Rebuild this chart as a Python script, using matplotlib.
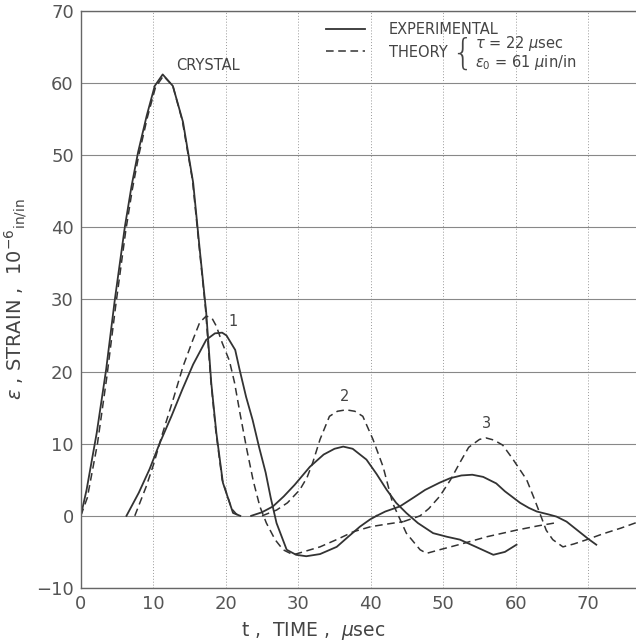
import matplotlib.pyplot as plt
from matplotlib.lines import Line2D

# crystal (experimental / theory)
crystal_t = [0, 0.8, 2.2, 3.5, 4.7, 6.1, 7.0, 7.9, 9.1, 10.2, 11.3, 12.7, 14.1, 15.5, 16.4, 17.3, 18.0, 18.7, 19.6, 21.0, 22.0]
crystal_exp = [0, 3.6, 11.5, 20.3, 30.0, 40.2, 45.7, 50.4, 55.5, 59.6, 61.2, 59.6, 54.6, 46.2, 37.0, 28.2, 18.4, 11.5, 4.6, 0.4, 0]
crystal_th_t = [0, 0.9, 2.3, 3.6, 4.8, 6.2, 7.1, 8.0, 9.2, 10.3, 11.4, 12.7, 14.0, 15.4, 16.3, 17.2, 17.9, 18.6, 19.5, 20.8, 21.5, 22.2]
crystal_th = [0, 2.5, 10.0, 19.3, 29.0, 39.5, 45.2, 50.0, 55.3, 59.4, 61.0, 59.6, 54.8, 46.6, 37.6, 28.8, 19.2, 12.0, 5.0, 1.0, 0.2, 0]

# gauge 1
g1_t = [6.3, 8.0, 9.5, 10.9, 12.5, 14.0, 15.5, 17.3, 18.5, 19.5, 20.1, 21.3, 21.9, 22.8, 23.7, 24.6, 25.5, 26.2, 27.0, 28.4, 29.7, 31.1, 33.0, 35.3, 37.0, 38.5, 39.9, 40.8]
g1_exp = [0, 3.2, 6.5, 10.1, 13.8, 17.5, 21.0, 24.4, 25.3, 25.4, 25.0, 23.0, 20.3, 16.5, 13.3, 9.5, 6.0, 2.5, -1.0, -4.7, -5.4, -5.6, -5.3, -4.3, -2.8, -1.5, -0.5, 0]
g1_th_t = [7.45, 9.0, 10.0, 11.3, 12.7, 14.1, 15.5, 16.4, 17.3, 18.1, 18.7, 19.5, 20.5, 21.2, 22.0, 22.9, 23.8, 24.7, 25.6, 26.8, 27.9, 29.3, 31.0, 33.0, 35.5, 37.6, 40.0, 42.5, 44.5]
g1_th = [0, 4.0, 7.0, 11.5, 16.0, 20.7, 24.5, 26.8, 27.7, 27.4, 26.3, 24.0, 21.5, 18.5, 14.0, 9.2, 4.8, 1.3, -1.0, -3.3, -4.7, -5.4, -4.9, -4.3, -3.2, -2.2, -1.5, -1.1, -0.8]

# gauge 2
g2_t = [23.5, 25.0, 26.5, 28.0, 29.5, 31.6, 33.5, 35.0, 36.2, 37.5, 39.4, 40.8, 42.2, 43.5, 44.9, 46.5, 48.6, 50.5, 52.3, 54.5, 56.9, 58.5, 60.1]
g2_exp = [0, 0.5, 1.3, 2.7, 4.3, 6.8, 8.5, 9.3, 9.6, 9.3, 7.8, 5.8, 3.6, 1.8, 0.4, -1.0, -2.4, -2.9, -3.3, -4.3, -5.4, -5.0, -4.0]
g2_th_t = [25.0, 27.0, 28.5, 30.2, 31.2, 32.0, 33.0, 34.3, 35.4, 36.6, 37.8, 38.9, 40.3, 41.7, 43.0, 44.9, 46.8, 47.7, 49.5, 52.5, 56.0, 60.0, 63.0, 65.3]
g2_th = [0, 0.8, 1.8, 3.6, 5.3, 7.4, 10.6, 13.8, 14.5, 14.7, 14.5, 13.8, 10.6, 6.8, 1.8, -2.4, -4.7, -5.2, -4.7, -3.9, -2.9, -2.0, -1.4, -1.0]

# gauge 3
g3_t = [40.8, 42.0, 44.0, 46.0, 47.5, 49.5, 50.9, 52.5, 54.0, 55.5, 57.3, 58.5, 60.6, 61.8, 62.9, 64.5, 65.6, 67.0, 68.5, 70.0, 71.1]
g3_exp = [0, 0.6, 1.3, 2.6, 3.6, 4.6, 5.2, 5.6, 5.7, 5.4, 4.5, 3.4, 1.8, 1.1, 0.6, 0.2, -0.1, -0.8, -2.0, -3.2, -4.0]
g3_th_t = [44.5, 46.8, 48.0, 49.5, 51.0, 52.3, 53.5, 55.0, 55.9, 57.0, 58.2, 59.5, 60.5, 61.5, 62.5, 63.3, 64.2, 65.1, 66.5, 68.0, 69.8, 72.0, 74.5, 77.0]
g3_th = [-0.8, 0, 1.0, 2.7, 5.0, 7.4, 9.5, 10.6, 10.8, 10.5, 9.8, 8.0, 6.5, 5.0, 2.5, 0.4, -2.0, -3.3, -4.3, -3.9, -3.3, -2.5, -1.7, -0.8]

ink = '#333333'
txt = '#444444'
dash = (0, (5, 3))

fig = plt.figure(figsize=(6.36, 6.44), dpi=100)
ax = fig.add_axes([0.127, 0.087, 0.912, 0.896])

for t, y in [(crystal_t, crystal_exp), (g1_t, g1_exp), (g2_t, g2_exp), (g3_t, g3_exp)]:
    ax.plot(t, y, color=ink, lw=1.3)
for t, y in [(crystal_th_t, crystal_th), (g1_th_t, g1_th), (g2_th_t, g2_th), (g3_th_t, g3_th)]:
    ax.plot(t, y, color=ink, lw=1.1, linestyle=dash)

ax.set_xlim(0, 80)
ax.set_ylim(-10, 70)
ax.set_xticks(range(0, 81, 10))
ax.set_yticks(range(-10, 71, 10))
ax.tick_params(length=0, labelsize=13, labelcolor='#555555', pad=5)
ax.xaxis.grid(True, color='#999999', lw=0.7, linestyle=(0, (1, 2)))
ax.yaxis.grid(True, color='#888888', lw=0.8)
for s in ax.spines.values():
    s.set_color('#666666')
    s.set_linewidth(1.0)

ax.set_xlabel(r't ,  TIME ,  $\mu$sec', fontsize=13.5, color=txt)
ax.xaxis.set_label_coords(0.4, -0.055)
ax.set_ylabel(r'$\epsilon$ , STRAIN ,  10$^{-6}$$_{\mathrm{in/in}}$', fontsize=14, color=txt)
ax.yaxis.set_label_coords(-0.09, 0.5)

ax.text(17.5, 62.5, 'CRYSTAL', fontsize=10.5, color=txt, ha='center', va='center')
ax.text(21.0, 27.0, '1', fontsize=10.5, color=txt, ha='center', va='center')
ax.text(36.4, 16.5, '2', fontsize=10.5, color=txt, ha='center', va='center')
ax.text(56.0, 12.8, '3', fontsize=10.5, color=txt, ha='center', va='center')

handles = [Line2D([], [], color=ink, lw=1.3), Line2D([], [], color=ink, lw=1.1, linestyle=dash)]
ax.legend(handles, ['EXPERIMENTAL', 'THEORY'], loc='upper left', bbox_to_anchor=(0.405, 0.998),
          frameon=False, fontsize=10.5, handlelength=2.7, handletextpad=1.6, labelspacing=0.5,
          labelcolor=txt, borderpad=0.2)
ax.text(0.638, 0.926, '{', transform=ax.transAxes, fontsize=25, color=txt,
        ha='left', va='center', fontweight='light')
ax.text(0.680, 0.944, r'$\tau$ = 22 $\mu$sec', transform=ax.transAxes, fontsize=10.5,
        color=txt, ha='left', va='center')
ax.text(0.680, 0.910, r'$\epsilon_0$ = 61 $\mu$in/in', transform=ax.transAxes, fontsize=10.5,
        color=txt, ha='left', va='center')

fig.savefig('out.png', dpi=100)
